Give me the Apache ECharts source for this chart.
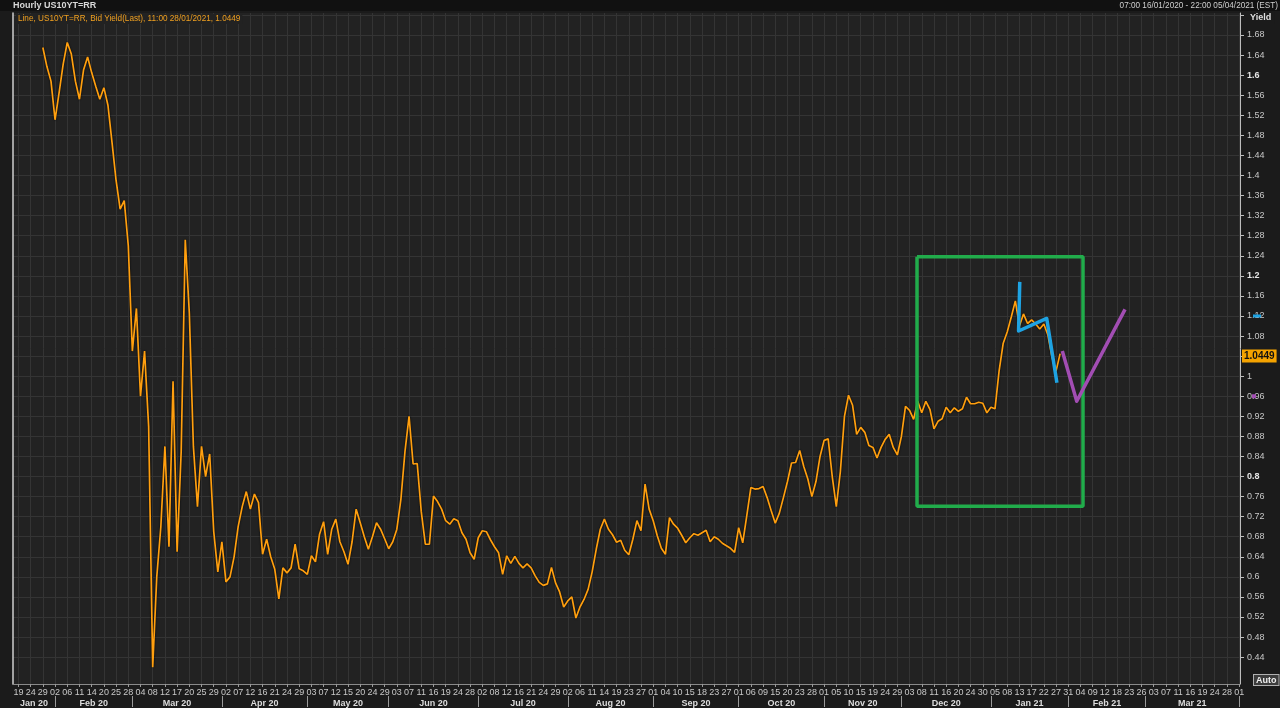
<!DOCTYPE html>
<html><head><meta charset="utf-8">
<script src="https://cdn.jsdelivr.net/npm/echarts@6/dist/echarts.min.js"></script>
<style>html,body{margin:0;padding:0;background:#1b1b1b;}#c{width:1280px;height:708px;}</style>
</head><body><div id="c"></div>
<script>
// ---------------- DATA ----------------
// trading-day axis: weekends and US bond-market holidays are skipped
const axisOrigin = '2020-01-16';
const axisFrom = '2020-01-16 16:00';
const axisTo = '2021-04-01 05:00';
const holidays = ['2020-01-20','2020-02-17','2020-04-10','2020-05-25','2020-07-03','2020-09-07','2020-10-12',
  '2020-11-11','2020-11-26','2020-12-25','2021-01-01','2021-01-18','2021-02-15','2021-04-02'];

// US10YT=RR bid yield, one reading per trading day from seriesStart
const seriesStart = '2020-01-29';
const yields = [
 1.655,1.617,1.588,1.511,1.565,1.622,1.665,1.642,1.588,1.552,
 1.610,1.636,1.605,1.578,1.552,1.575,1.540,1.466,1.390,1.333,
 1.350,1.260,1.050,1.135,0.960,1.050,0.900,0.420,0.600,0.700,
 0.860,0.660,0.990,0.650,0.850,1.272,1.126,0.860,0.740,0.860,
 0.800,0.845,0.690,0.610,0.670,0.590,0.600,0.640,0.700,0.740,
 0.770,0.735,0.765,0.748,0.645,0.675,0.640,0.615,0.556,0.618,
 0.608,0.618,0.665,0.616,0.612,0.605,0.642,0.630,0.685,0.710,
 0.645,0.695,0.715,0.670,0.650,0.625,0.670,0.735,0.708,0.680,
 0.655,0.680,0.708,0.695,0.676,0.656,0.670,0.695,0.755,0.850,
 0.920,0.825,0.826,0.730,0.665,0.665,0.761,0.750,0.735,0.712,
 0.705,0.716,0.712,0.688,0.675,0.648,0.635,0.678,0.692,0.690,
 0.674,0.660,0.648,0.605,0.642,0.627,0.641,0.627,0.618,0.626,
 0.618,0.602,0.589,0.583,0.586,0.619,0.588,0.570,0.540,0.552,
 0.560,0.518,0.540,0.555,0.575,0.610,0.655,0.695,0.715,0.695,
 0.684,0.669,0.673,0.653,0.644,0.675,0.712,0.692,0.785,0.735,
 0.712,0.682,0.657,0.645,0.718,0.705,0.697,0.683,0.668,0.678,
 0.686,0.683,0.688,0.693,0.670,0.680,0.675,0.667,0.662,0.657,
 0.649,0.698,0.668,0.722,0.778,0.775,0.776,0.780,0.758,0.732,
 0.707,0.727,0.758,0.790,0.827,0.828,0.852,0.820,0.795,0.760,
 0.790,0.840,0.872,0.875,0.800,0.740,0.810,0.920,0.962,0.942,
 0.884,0.898,0.888,0.862,0.858,0.837,0.858,0.874,0.884,0.858,
 0.843,0.880,0.940,0.932,0.914,0.950,0.927,0.950,0.934,0.895,
 0.910,0.915,0.938,0.927,0.937,0.930,0.935,0.958,0.945,0.945,
 0.948,0.946,0.927,0.938,0.935,1.010,1.065,1.088,1.118,1.150,
 1.100,1.124,1.105,1.112,1.104,1.094,1.104,1.082,1.038,1.010,
 1.0449
];
const lastValue = 1.0449;

// hand-drawn annotations [time, yield]
const boxCorners = [['2020-12-04 20:00',1.238],['2021-02-04 15:00',1.238],['2021-02-04 15:00',0.741],['2020-12-04 20:00',0.741],['2020-12-04 20:00',1.238]];
const blueStroke = [['2021-01-13 02:00',1.188],['2021-01-12 19:00',1.090],['2021-01-22 17:00',1.115],['2021-01-27 05:00',0.987]];
const purpleStroke = [['2021-01-28 13:00',1.050],['2021-02-03 02:00',0.950],['2021-02-19 23:00',1.133]];
const blueAxisTag = 1.118, purpleAxisTag = 0.956;

// axis ticks
const yTicks = [0.44,0.48,0.52,0.56,0.60,0.64,0.68,0.72,0.76,0.80,0.84,0.88,0.92,0.96,1.00,1.04,1.08,1.12,1.16,1.20,
  1.24,1.28,1.32,1.36,1.40,1.44,1.48,1.52,1.56,1.60,1.64,1.68,1.72];
const dayTicks = [
 '2020-01-19','2020-01-24','2020-01-29',
 '2020-02-02','2020-02-06','2020-02-11','2020-02-14','2020-02-20','2020-02-25','2020-02-28',
 '2020-03-04','2020-03-08','2020-03-12','2020-03-17','2020-03-20','2020-03-25','2020-03-29',
 '2020-04-02','2020-04-07','2020-04-12','2020-04-16','2020-04-21','2020-04-24','2020-04-29',
 '2020-05-03','2020-05-07','2020-05-12','2020-05-15','2020-05-20','2020-05-24','2020-05-29',
 '2020-06-03','2020-06-07','2020-06-11','2020-06-16','2020-06-19','2020-06-24','2020-06-28',
 '2020-07-02','2020-07-08','2020-07-12','2020-07-16','2020-07-21','2020-07-24','2020-07-29',
 '2020-08-02','2020-08-06','2020-08-11','2020-08-14','2020-08-19','2020-08-23','2020-08-27',
 '2020-09-01','2020-09-04','2020-09-10','2020-09-15','2020-09-18','2020-09-23','2020-09-27',
 '2020-10-01','2020-10-06','2020-10-09','2020-10-15','2020-10-20','2020-10-23','2020-10-28',
 '2020-11-01','2020-11-05','2020-11-10','2020-11-15','2020-11-19','2020-11-24','2020-11-29',
 '2020-12-03','2020-12-08','2020-12-11','2020-12-16','2020-12-20','2020-12-24','2020-12-30',
 '2021-01-05','2021-01-08','2021-01-13','2021-01-17','2021-01-22','2021-01-27','2021-01-31',
 '2021-02-04','2021-02-09','2021-02-12','2021-02-18','2021-02-23','2021-02-26',
 '2021-03-03','2021-03-07','2021-03-11','2021-03-16','2021-03-19','2021-03-24','2021-03-28',
 '2021-04-01'];
const monthStarts = ['2020-02-01','2020-03-01','2020-04-01','2020-05-01','2020-06-01','2020-07-01','2020-08-01',
 '2020-09-01','2020-10-01','2020-11-01','2020-12-01','2021-01-01','2021-02-01','2021-03-01','2021-04-01'];
const monthLabels = ['Jan 20','Feb 20','Mar 20','Apr 20','May 20','Jun 20','Jul 20','Aug 20','Sep 20','Oct 20',
 'Nov 20','Dec 20','Jan 21','Feb 21','Mar 21'];

// ---------------- helpers ----------------
const holSet = new Set(holidays);
function parse(s){const [d,tm]=s.split(' ');const [y,m,dd]=d.split('-').map(Number);let h=0;if(tm){const [hh,mm]=tm.split(':').map(Number);h=hh+mm/60;}return {ms:Date.UTC(y,m-1,dd),h};}
function isTrading(ms){const dt=new Date(ms);const wd=dt.getUTCDay();return wd!==0&&wd!==6&&!holSet.has(dt.toISOString().slice(0,10));}
const originMs = parse(axisOrigin).ms;
function tIndex(s){const p=parse(s);let n=0;for(let ms=originMs;ms<p.ms;ms+=86400000){if(isTrading(ms))n++;}if(p.h&&isTrading(p.ms))n+=p.h/24;return n;}

const xMin = tIndex(axisFrom), xMax = tIndex(axisTo);
const t0 = tIndex(seriesStart);
const lineData = yields.map((v,k)=>[t0+k,v]);
const conv = arr => arr.map(([d,v])=>[tIndex(d),v]);

const tickPos = dayTicks.map(tIndex);
const tickText = {}; dayTicks.forEach((d,i)=>{tickText[tickPos[i].toFixed(3)] = d.slice(8,10);});
const mStartPos = monthStarts.map(tIndex);
const mBounds = [xMin].concat(mStartPos);
const mMid = monthLabels.map((_,i)=>(mBounds[i]+mBounds[i+1])/2);
const mText = {}; mMid.forEach((p,i)=>{mText[p.toFixed(3)] = monthLabels[i];});

const yMin = 0.3865, yMax = 1.7238;
const FONT = 'Liberation Sans';
const LABEL = '#c8c8c8';
const GRID = '#343434';

const chart = echarts.init(document.getElementById('c'), null, {renderer:'canvas'});
chart.setOption({
  backgroundColor:'#1b1b1b',
  animation:false,
  grid:{left:13,right:40,top:13,bottom:23,show:true,backgroundColor:'#222222',borderWidth:0},
  xAxis:[{
    type:'value',min:xMin,max:xMax,position:'bottom',
    axisLine:{show:true,lineStyle:{color:'#8a8a8a'}},
    axisTick:{show:true,customValues:tickPos,length:3,lineStyle:{color:'#9a9a9a'}},
    axisLabel:{customValues:tickPos,color:LABEL,fontFamily:FONT,fontSize:9,margin:4,
      formatter:v=>tickText[v.toFixed(3)]||''},
    splitLine:{show:true,lineStyle:{color:GRID,width:1}}
  },{
    type:'value',min:xMin,max:xMax,position:'bottom',offset:12,
    axisLine:{show:false},
    axisTick:{show:true,customValues:mStartPos,length:11,inside:false,lineStyle:{color:'#9a9a9a'}},
    axisLabel:{customValues:mMid,color:'#dcdcdc',fontFamily:FONT,fontSize:9,fontWeight:'bold',margin:3,
      formatter:v=>mText[v.toFixed(3)]||''},
    splitLine:{show:false}
  }],
  yAxis:[{
    type:'value',position:'right',min:yMin,max:yMax,
    axisLine:{show:true,lineStyle:{color:'#bdbdbd'}},
    axisTick:{show:true,customValues:yTicks,length:4,lineStyle:{color:'#bdbdbd'}},
    axisLabel:{customValues:yTicks.filter(v=>v<1.7),color:LABEL,fontFamily:FONT,fontSize:9,margin:7,
      formatter:v=>{const s=String(+v.toFixed(2));return (Math.abs(v*10/4-Math.round(v*10/4))<1e-6)?'{b|'+s+'}':s;},
      rich:{b:{fontWeight:'bold',color:'#e6e6e6',fontFamily:FONT,fontSize:9}}},
    splitLine:{show:true,lineStyle:{color:GRID,width:1}}
  },{
    type:'value',position:'left',min:yMin,max:yMax,
    axisLine:{show:true,lineStyle:{color:'#cfcfcf',width:1.5}},
    axisTick:{show:false},axisLabel:{show:false},splitLine:{show:false}
  }],
  series:[
    {type:'line',name:'US10YT=RR',data:lineData,showSymbol:false,symbol:'none',z:3,
     lineStyle:{color:'#ff9f0f',width:1.7,shadowColor:'rgba(0,0,0,1)',shadowBlur:2},
     markLine:{symbol:'none',silent:true,data:[{yAxis:lastValue}],lineStyle:{color:'rgba(0,0,0,0)',width:1},
       label:{show:true,position:'end',distance:2,formatter:String(lastValue),backgroundColor:'#f5a300',color:'#111',
         fontFamily:FONT,fontSize:10,fontWeight:'bold',padding:[2,2,1,2],opacity:1}}},
    {type:'line',data:conv(boxCorners),showSymbol:false,symbol:'none',z:4,lineStyle:{color:'#21ac4b',width:3.5}},
    {type:'line',data:conv(blueStroke),showSymbol:false,symbol:'none',z:5,lineStyle:{color:'#1ea3e3',width:3.5,join:'round'},
     markLine:{symbol:'none',silent:true,data:[{yAxis:blueAxisTag}],lineStyle:{color:'rgba(0,0,0,0)',width:1},
       label:{show:true,position:'end',distance:13,formatter:'',backgroundColor:'#1ea3e3',width:8,height:3,padding:0}}},
    {type:'line',data:conv(purpleStroke),showSymbol:false,symbol:'none',z:5,lineStyle:{color:'#a24db3',width:3.5,join:'round'},
     markLine:{symbol:'none',silent:true,data:[{yAxis:purpleAxisTag}],lineStyle:{color:'rgba(0,0,0,0)',width:1},
       label:{show:true,position:'end',distance:12,formatter:'',backgroundColor:'#a24db3',width:4,height:4,padding:0}}}
  ],
  graphic:[
    {type:'rect',left:0,top:0,z:100,shape:{width:1280,height:11},style:{fill:'#111111'}},
    {type:'text',left:13,top:1,z:101,style:{text:'Hourly US10YT=RR',fill:'#d8d8d8',font:'bold 9px '+FONT}},
    {type:'text',right:2,top:2,z:101,style:{text:'07:00 16/01/2020 - 22:00 05/04/2021 (EST)',fill:'#cfcfcf',font:'8.2px '+FONT}},
    {type:'text',left:16,top:14,z:101,style:{text:'Line, US10YT=RR, Bid Yield(Last), 11:00 28/01/2021, 1.0449',fill:'#f0a020',font:'8.2px '+FONT,backgroundColor:'#222222',padding:[1,2,1,2]}},
    {type:'text',left:1250,top:12,z:101,style:{text:'Yield',fill:'#e0e0e0',font:'bold 9px '+FONT,backgroundColor:'#1b1b1b',padding:[1,3,2,0]}},
    {type:'text',left:1253,top:674,z:101,style:{text:'Auto',fill:'#f0f0f0',font:'bold 9px '+FONT,backgroundColor:'#3c3c3c',borderColor:'#b0b0b0',borderWidth:1,padding:[1,2,0,2]}}
  ]
});
</script></body></html>
